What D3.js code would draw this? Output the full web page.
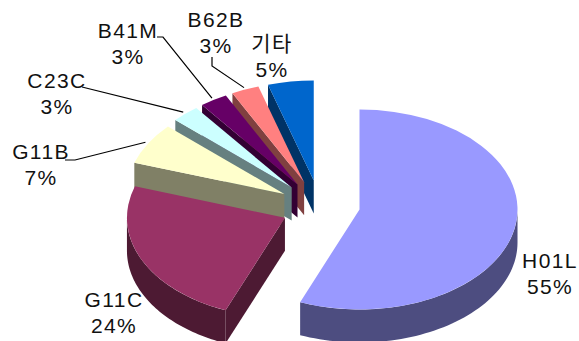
<!DOCTYPE html>
<html lang="ko">
<head>
<meta charset="utf-8">
<title>Pie chart</title>
<script src="https://cdnjs.cloudflare.com/ajax/libs/d3/7.9.0/d3.min.js"></script>
<style>
  html, body { margin: 0; padding: 0; background: #fff; }
  svg { display: block; }
  text { font-family: "Liberation Sans", Arial, sans-serif; fill: #111; font-size: 21px; letter-spacing: 1.4px; text-anchor: middle; }
  .ko { font-family: "Noto Sans CJK KR", sans-serif; letter-spacing: 1.5px; }
</style>
</head>
<body>
<div id="chart"></div>
<script>
// Share of each code, clockwise from twelve o'clock
const categories = ["H01L", "G11C", "G11B", "C23C", "B41M", "B62B", "기타"];
const shares = [55, 24, 7, 3, 3, 3, 5];
const topColors = ["#9999ff", "#993366", "#ffffcc", "#ccffff", "#660066", "#ff8080", "#0066cc"];
const sideColors = ["#4d4d80", "#4d1a33", "#808066", "#668080", "#330033", "#804040", "#003366"];

// Label anchors (centre x, first baseline) and leader elbows, in page pixels
const labelAnchors = [[550, 268], [114, 307], [41, 159], [57, 88], [128, 38], [216, 27], [272, 51]];
const leaderStarts = [null, null, [[65, 160], [75, 160]], [[82, 87]], [[157, 37], [163, 37]], [[212, 57], [212, 66]], null];

const width = 579, height = 341;
const pieCenter = [320, 205.5];
const rx = 158, ry = 100, depth = 33, explode = 40;
const tilt = ry / rx;

const svg = d3.select("#chart").append("svg").attr("width", width).attr("height", height);

const slices = d3.pie().sort(null).value(d => d)(shares);
const topArc = d3.arc().innerRadius(0).outerRadius(rx);
const polyline = d3.line();

// The camera's tilt pushes left-hand angles a few degrees further round the rim
const view = a => a + (4.5 * Math.PI / 180) * Math.sin(Math.PI * Math.pow(a / (2 * Math.PI), 1.71));

// Each slice moves away from the centre along its middle angle
function apexOf(s) {
  const mid = (s.startAngle + s.endAngle) / 2;
  return [pieCenter[0] + explode * Math.sin(mid), pieCenter[1] - explode * tilt * Math.cos(mid)];
}
const rimPoint = (apex, a, scale = 1) => [
  apex[0] + rx * scale * Math.sin(a),
  apex[1] - ry * scale * Math.cos(a)
];

// Paint from the back of the pie to the front
d3.range(slices.length).reverse().forEach(i => {
  const s = slices[i];
  const apex = apexOf(s);
  const start = view(s.startAngle), end = view(s.endAngle);
  const g = svg.append("g");

  // Straight wall along the starting edge, visible on the left half only
  if (Math.sin(start) < -1e-6) {
    const p = rimPoint(apex, start);
    g.append("path")
      .attr("d", polyline([apex, p, [p[0], p[1] + depth], [apex[0], apex[1] + depth]]) + "Z")
      .attr("fill", sideColors[i]);
  }

  // Curved wall along the part of the rim that faces the viewer
  const from = Math.max(start, Math.PI / 2);
  const to = Math.min(end, 3 * Math.PI / 2);
  if (to > from) {
    const steps = d3.range(0, 61).map(t => from + (to - from) * t / 60);
    const upper = steps.map(a => rimPoint(apex, a));
    const lower = upper.slice().reverse().map(p => [p[0], p[1] + depth]);
    g.append("path")
      .attr("d", polyline(upper.concat(lower)) + "Z")
      .attr("fill", sideColors[i]);
  }

  g.append("path")
    .attr("d", topArc({ startAngle: start, endAngle: end }))
    .attr("transform", `translate(${apex[0]},${apex[1]}) scale(1,${tilt})`)
    .attr("fill", topColors[i]);
});

// Leader lines from the smaller labels to the rim of their slices
leaderStarts.forEach((start, i) => {
  if (!start) return;
  const s = slices[i];
  const end = rimPoint(apexOf(s), view((s.startAngle + s.endAngle) / 2), 1.02);
  svg.append("path")
    .attr("d", polyline(start.concat([end])))
    .attr("fill", "none")
    .attr("stroke", "#000")
    .attr("stroke-width", 1.2);
});

// Two-line labels: name above percentage
categories.forEach((name, i) => {
  const [x, y] = labelAnchors[i];
  svg.append("text").attr("x", x).attr("y", y)
    .classed("ko", /[^\x00-\x7f]/.test(name)).text(name);
  svg.append("text").attr("x", x).attr("y", y + 26).text(shares[i] + "%");
});
</script>
</body>
</html>
